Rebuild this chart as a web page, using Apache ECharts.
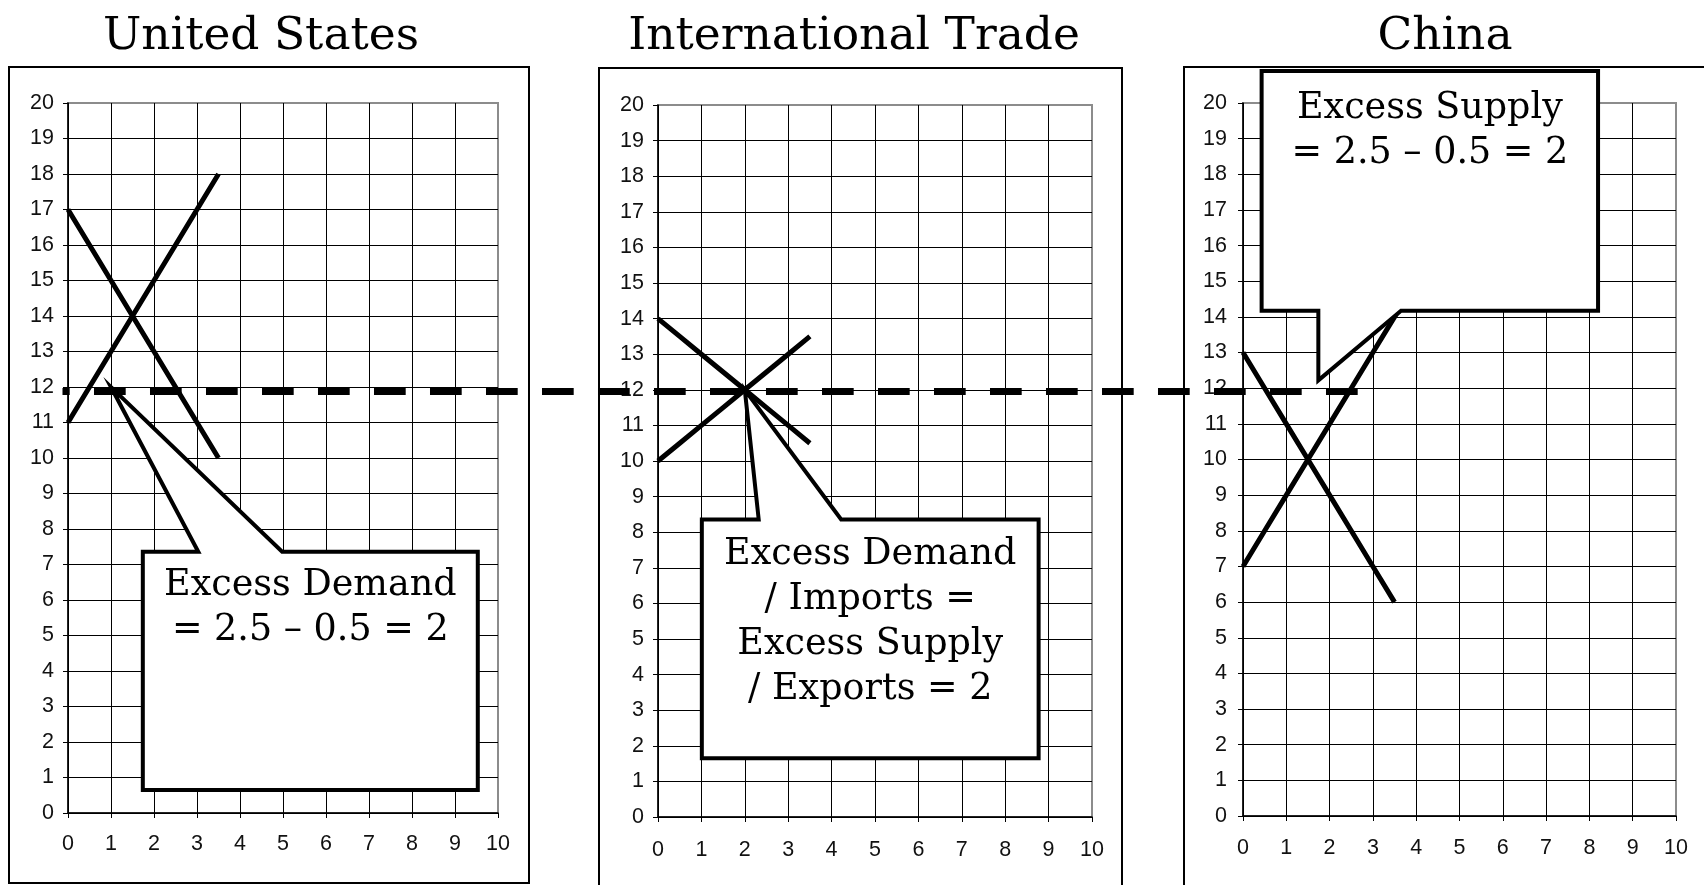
<!DOCTYPE html>
<html><head><meta charset="utf-8">
<script src="https://cdn.jsdelivr.net/npm/echarts@6/dist/echarts.min.js"></script>
<style>html,body{margin:0;padding:0;background:#fff}#c{width:1704px;height:885px}</style>
</head><body><div id="c"></div>
<script>
// ---------- data ----------
const panelTitles = ['United States', 'International Trade', 'China'];
const quantity = [0, 0.5, 1, 1.5, 2, 2.5, 3, 3.5];
const usDemand = [17, 16, 15, 14, 13, 12, 11, 10];
const usSupply = [11, 12, 13, 14, 15, 16, 17, 18];
const tradeDemand = [14, 13.5, 13, 12.5, 12, 11.5, 11, 10.5];
const tradeSupply = [10, 10.5, 11, 11.5, 12, 12.5, 13, 13.5];
const chinaDemand = [13, 12, 11, 10, 9, 8, 7, 6];
const chinaSupplyQuantity = [0, 0.5, 1, 1.5, 2, 2.5, 3, 3.5, 4];
const chinaSupply = [7, 8, 9, 10, 11, 12, 13, 14, 15];
const xMin = 0, xMax = 10, xStep = 1;
const yMin = 0, yMax = 20, yStep = 1;
const worldPrice = 12;
const calloutTexts = [
  'Excess Demand\n= 2.5 \u2013 0.5 = 2',
  'Excess Demand\n/ Imports =\nExcess Supply\n/ Exports = 2',
  'Excess Supply\n= 2.5 \u2013 0.5 = 2'
];

// ---------- layout ----------
const grids = [
  {left: 68, top: 103, width: 430, height: 710},
  {left: 658, top: 105, width: 434, height: 712},
  {left: 1243, top: 103, width: 433, height: 713}
];
const frames = [
  {x: 9, y: 67, w: 520, h: 816},
  {x: 599, y: 68, w: 523, h: 840},
  {x: 1184, y: 67, w: 560, h: 840}
];
const titlePos = [[261, 37], [854, 37], [1445, 37]];
const labelMarginX = [20, 22, 21];
const labelMarginY = [14, 14, 16];
// callout shapes in each panel's data space
const callouts = [
  {g: 0, pts: [[1.74,7.36],[3.03,7.36],[1.0,12.0],[4.98,7.36],[9.53,7.36],[9.53,0.65],[1.74,0.65]], box: [1.74, 9.53, 7.36], off: 11.5},
  {g: 1, pts: [[1.01,8.36],[2.32,8.36],[2.0,12.0],[4.22,8.36],[8.77,8.36],[8.77,1.65],[1.01,1.65]], box: [1.01, 8.77, 8.36], off: 13},
  {g: 2, pts: [[0.43,20.9],[8.2,20.9],[8.2,14.17],[3.65,14.17],[1.74,12.22],[1.74,14.17],[0.43,14.17]], box: [0.43, 8.2, 20.9], off: 15.5}
];

const chart = echarts.init(document.getElementById('c'), null, {renderer: 'canvas'});
const labelFont = {fontFamily: 'Liberation Sans', fontSize: 21.5, color: '#111'};

const xAxes = [], yAxes = [];
grids.forEach((g, i) => {
  xAxes.push({
    type: 'value', gridIndex: i, min: xMin, max: xMax, interval: xStep,
    axisLine: {show: true, onZero: false, lineStyle: {color: '#000', width: 1.5}},
    axisTick: {show: true, inside: false, length: 5, lineStyle: {color: '#000'}},
    axisLabel: Object.assign({margin: labelMarginX[i]}, labelFont),
    splitLine: {show: true, showMaxLine: false, lineStyle: {color: '#000', width: 1}}
  });
  yAxes.push({
    type: 'value', gridIndex: i, min: yMin, max: yMax, interval: yStep,
    axisLine: {show: true, onZero: false, lineStyle: {color: '#000', width: 1.5}},
    axisTick: {show: true, inside: false, length: 5, lineStyle: {color: '#000'}},
    axisLabel: Object.assign({margin: labelMarginY[i]}, labelFont),
    splitLine: {show: true, showMaxLine: false, lineStyle: {color: '#000', width: 1}}
  });
});

function pairs(xs, ys) { return xs.map((x, k) => [x, ys[k]]); }
const curveStyle = {color: '#000', width: 5};
function lineSeries(i, data) {
  return {type: 'line', xAxisIndex: i, yAxisIndex: i, data: data, showSymbol: false, symbol: 'none',
    lineStyle: curveStyle, silent: true, z: 3};
}

chart.setOption({
  animation: false,
  backgroundColor: '#fff',
  grid: grids.map(g => Object.assign({show: true, borderColor: '#8c8c8c', borderWidth: 2, backgroundColor: 'transparent', containLabel: false}, g)),
  xAxis: xAxes,
  yAxis: yAxes,
  series: [
    lineSeries(0, pairs(quantity, usDemand)),
    lineSeries(0, pairs(quantity, usSupply)),
    lineSeries(1, pairs(quantity, tradeDemand)),
    lineSeries(1, pairs(quantity, tradeSupply)),
    lineSeries(2, pairs(quantity, chinaDemand)),
    lineSeries(2, pairs(chinaSupplyQuantity, chinaSupply))
  ]
});

// ---------- annotations ----------
const px = (gi, x, y) => chart.convertToPixel({gridIndex: gi}, [x, y]);
const graphics = [];
frames.forEach(f => graphics.push({type: 'rect', z: 1, silent: true,
  shape: {x: f.x, y: f.y, width: f.w, height: f.h},
  style: {fill: null, stroke: '#000', lineWidth: 2}}));
panelTitles.forEach((t, i) => graphics.push({type: 'text', z: 70, silent: true,
  x: titlePos[i][0], y: titlePos[i][1],
  style: {text: t, fontFamily: 'DejaVu Serif', fontSize: 45.5, fill: '#000', align: 'center', verticalAlign: 'middle'}}));
callouts.forEach((c, i) => {
  const pts = c.pts.map(p => px(c.g, p[0], p[1]));
  graphics.push({type: 'polygon', z: 50, silent: true, shape: {points: pts},
    style: {fill: '#fff', stroke: '#000', lineWidth: 4, lineJoin: 'miter'}});
  const a = px(c.g, c.box[0], c.box[2]);
  const b = px(c.g, c.box[1], c.box[2]);
  graphics.push({type: 'text', z: 55, silent: true, x: (a[0] + b[0]) / 2, y: a[1] + c.off,
    style: {text: calloutTexts[i], fontFamily: 'DejaVu Serif', fontSize: 36.5, lineHeight: 45,
      fill: '#000', align: 'center', verticalAlign: 'top'}});
});
// world price dashed line
const p0 = px(0, -0.128, worldPrice - 0.13);
const p1 = px(2, 2.66, worldPrice - 0.13);
graphics.push({type: 'line', z: 60, silent: true,
  shape: {x1: p0[0], y1: p0[1], x2: p1[0], y2: p0[1]},
  style: {stroke: '#000', lineWidth: 7, lineDash: [31.7, 24.3], lineDashOffset: 24.5}});
chart.setOption({graphic: graphics});
</script></body></html>
